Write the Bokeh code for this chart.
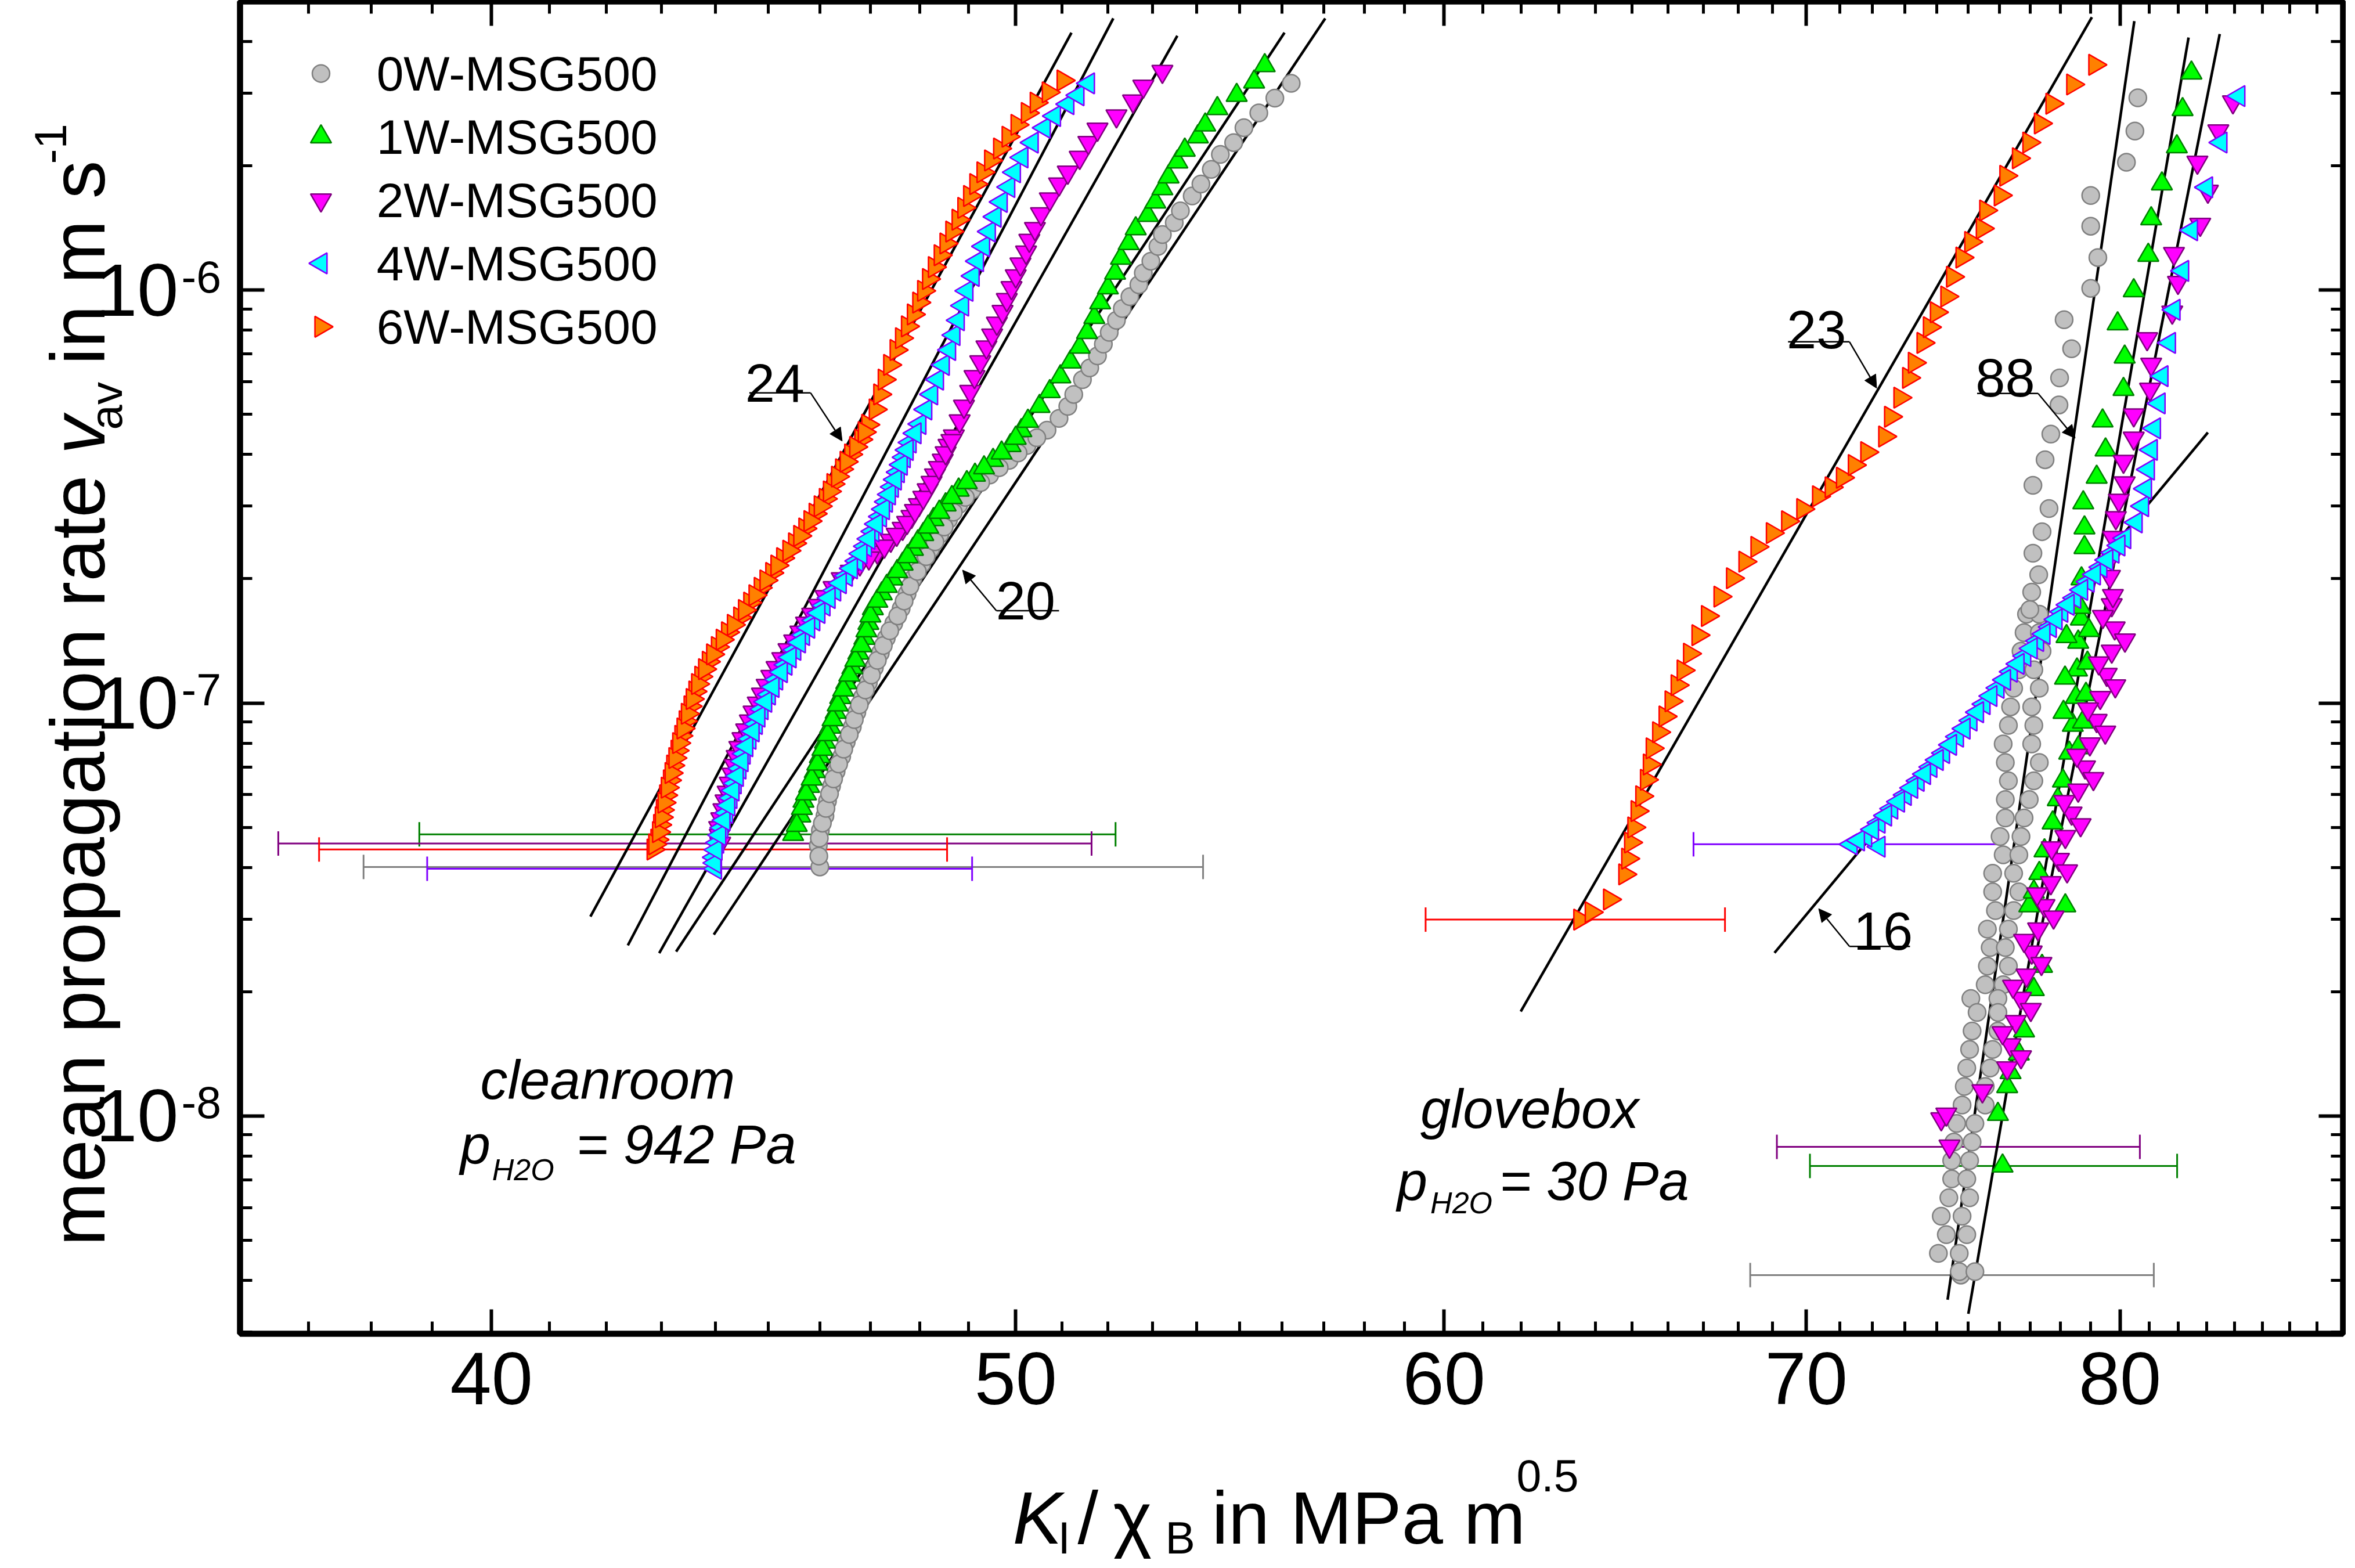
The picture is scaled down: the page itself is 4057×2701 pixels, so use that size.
import math
from bokeh.plotting import figure
from bokeh.models import (ColumnDataSource, FixedTicker, LogAxis, Label, Whisker, TeeHead, Arrow,
                          NormalHead, Range1d, CustomJSTickFormatter, GridBox)
from bokeh.embed import file_html
from bokeh.resources import INLINE

# ---------------- data (K_I/chi_B in MPa m^0.5, v_av in m/s) ----------------
series_names = ["0W-MSG500", "1W-MSG500", "2W-MSG500", "4W-MSG500", "6W-MSG500"]

cr_0W = [(46.00,4.01e-8),(45.97,4.52e-8),(46.01,4.91e-8),(46.10,5.33e-8),(46.15,5.79e-8),(46.23,6.29e-8),
 (46.32,6.83e-8),(46.43,7.42e-8),(46.52,8.05e-8),(46.64,8.75e-8),(46.73,9.50e-8),(46.84,1.032e-7),
 (46.96,1.121e-7),(47.08,1.218e-7),(47.20,1.322e-7),(47.32,1.436e-7),(47.47,1.560e-7),(47.62,1.694e-7),
 (47.74,1.840e-7),(47.86,1.999e-7),(48.04,2.171e-7),(48.22,2.358e-7),(48.41,2.561e-7),(48.59,2.782e-7),
 (48.80,3.021e-7),(49.08,3.281e-7),(49.45,3.565e-7),(49.86,3.871e-7),(50.24,4.204e-7),(50.67,4.58e-7),
 (50.93,4.89e-7),(51.12,5.23e-7),(51.25,5.59e-7),(51.44,6.07e-7),(51.60,6.48e-7),(51.77,6.93e-7),
 (51.90,7.40e-7),(52.03,7.90e-7),(52.19,8.45e-7),(52.32,9.02e-7),(52.49,9.64e-7),(52.69,1.030e-6),
 (52.79,1.100e-6),(52.96,1.175e-6),(53.12,1.276e-6),(53.22,1.363e-6),(53.49,1.457e-6),(53.63,1.556e-6),
 (53.90,1.690e-6),(54.10,1.806e-6),(54.34,1.961e-6),(54.55,2.130e-6),(54.86,2.276e-6),(55.10,2.472e-6),
 (55.45,2.685e-6),(55.83,2.916e-6),(56.22,3.167e-6),
 (45.98,4.26e-8),(45.99,4.71e-8),(46.05,5.12e-8),(46.12,5.56e-8),(46.19,6.03e-8),(46.27,6.55e-8),
 (46.37,7.12e-8),(46.47,7.73e-8),(46.58,8.39e-8),(46.68,9.12e-8),(46.78,9.9e-8),(46.90,1.076e-7),
 (47.02,1.169e-7),(47.14,1.269e-7),(47.26,1.378e-7),(47.39,1.497e-7),(47.55,1.626e-7),(47.68,1.766e-7),
 (47.80,1.918e-7),(47.95,2.083e-7),(48.13,2.263e-7),(48.31,2.458e-7),(48.50,2.669e-7),(48.69,2.899e-7),
 (48.94,3.148e-7),(49.26,3.42e-7),(49.65,3.715e-7),(50.05,4.034e-7),(50.45,4.39e-7)]

cr_1W = [(45.48,4.81e-8),(45.62,5.33e-8),(45.68,5.79e-8),(45.79,6.29e-8),(45.90,6.83e-8),(46.00,7.42e-8),
 (46.10,8.05e-8),(46.20,8.75e-8),(46.31,9.50e-8),(46.40,1.032e-7),(46.52,1.121e-7),(46.64,1.218e-7),
 (46.76,1.322e-7),(46.88,1.436e-7),(46.96,1.560e-7),(47.05,1.694e-7),(47.23,1.840e-7),(47.44,1.999e-7),
 (47.65,2.171e-7),(47.86,2.358e-7),(48.07,2.561e-7),(48.28,2.782e-7),(48.53,3.021e-7),(48.80,3.281e-7),
 (49.14,3.565e-7),(49.52,3.871e-7),(49.89,4.204e-7),(50.12,4.57e-7),(50.26,4.815e-7),(50.51,5.23e-7),
 (50.73,5.68e-7),(50.96,6.17e-7),(51.18,6.70e-7),(51.38,7.28e-7),(51.54,7.90e-7),(51.70,8.59e-7),
 (51.83,9.32e-7),(52.00,1.013e-6),(52.16,1.100e-6),(52.29,1.195e-6),(52.46,1.297e-6),(52.62,1.409e-6),
 (52.89,1.518e-6),(53.06,1.635e-6),(53.22,1.761e-6),(53.36,1.881e-6),(53.56,2.044e-6),(53.73,2.183e-6),
 (54.03,2.352e-6),(54.20,2.513e-6),(54.48,2.752e-6),(54.93,2.964e-6),(55.34,3.193e-6),(55.59,3.497e-6),
 (45.55,5.06e-8),(45.65,5.56e-8),(45.73,6.03e-8),(45.84,6.55e-8),(45.95,7.12e-8),(46.05,7.73e-8),
 (46.15,8.39e-8),(46.25,9.12e-8),(46.35,9.9e-8),(46.46,1.076e-7),(46.58,1.169e-7),(46.70,1.269e-7),
 (46.82,1.378e-7),(46.92,1.497e-7),(47.00,1.626e-7),(47.14,1.766e-7),(47.33,1.918e-7),(47.54,2.083e-7),
 (47.75,2.263e-7),(47.96,2.458e-7),(48.17,2.669e-7),(48.40,2.899e-7),(48.66,3.148e-7),(48.97,3.42e-7),
 (49.33,3.715e-7),(49.70,4.034e-7),(50.00,4.38e-7)]

cr_2W = [(44.09,4.57e-8),(44.07,4.99e-8),(44.15,5.51e-8),(44.23,6.08e-8),(44.32,6.72e-8),(44.40,7.42e-8),
 (44.51,8.19e-8),(44.65,9.04e-8),(44.80,9.99e-8),(44.97,1.103e-7),(45.16,1.218e-7),(45.39,1.345e-7),
 (45.62,1.484e-7),(45.85,1.639e-7),(46.11,1.810e-7),(46.43,1.999e-7),(46.79,2.171e-7),(47.14,2.319e-7),
 (47.41,2.477e-7),(47.65,2.647e-7),(47.83,2.828e-7),(47.98,3.021e-7),(48.16,3.281e-7),(48.31,3.565e-7),
 (48.47,3.871e-7),(48.59,4.204e-7),(48.70,4.43e-7),(48.82,4.82e-7),(48.91,5.23e-7),(49.04,5.68e-7),
 (49.13,6.17e-7),(49.25,6.70e-7),(49.38,7.28e-7),(49.50,7.78e-7),(49.60,8.31e-7),(49.72,8.87e-7),
 (49.81,9.48e-7),(49.91,1.013e-6),(50.00,1.082e-6),(50.10,1.156e-6),(50.22,1.235e-6),(50.29,1.319e-6),
 (50.41,1.409e-6),(50.54,1.530e-6),(50.73,1.662e-6),(50.93,1.806e-6),(51.12,1.929e-6),(51.38,2.095e-6),
 (51.57,2.276e-6),(51.77,2.451e-6),(52.19,2.640e-6),(52.56,2.868e-6),(52.79,3.115e-6),(53.22,3.383e-6),
 (44.08,4.78e-8),(44.11,5.24e-8),(44.19,5.79e-8),(44.27,6.39e-8),(44.36,7.06e-8),(44.45,7.80e-8),
 (44.58,8.6e-8),(44.72,9.5e-8),(44.88,1.05e-7),(45.06,1.159e-7),(45.27,1.28e-7),(45.50,1.413e-7),
 (45.73,1.56e-7),(45.98,1.722e-7),(46.27,1.902e-7),(46.61,2.083e-7),(46.97,2.244e-7),(47.28,2.397e-7),
 (47.53,2.56e-7),(47.74,2.736e-7),(47.90,2.923e-7),(48.07,3.148e-7),(48.24,3.42e-7),(48.39,3.715e-7),
 (48.53,4.034e-7),(48.65,4.32e-7)]

cr_4W = [(44.00,3.97e-8),(43.98,4.23e-8),(44.04,4.59e-8),(44.12,4.99e-8),(44.21,5.42e-8),(44.29,5.89e-8),
 (44.37,6.39e-8),(44.46,6.94e-8),(44.54,7.54e-8),(44.65,8.19e-8),(44.77,8.90e-8),(44.88,9.66e-8),
 (45.02,1.049e-7),(45.16,1.140e-7),(45.34,1.238e-7),(45.51,1.345e-7),(45.68,1.461e-7),(45.88,1.586e-7),
 (46.08,1.723e-7),(46.29,1.872e-7),(46.52,2.033e-7),(46.73,2.208e-7),(46.90,2.397e-7),(47.05,2.604e-7),
 (47.20,2.828e-7),(47.32,3.072e-7),(47.44,3.337e-7),(47.56,3.623e-7),(47.68,3.936e-7),(47.80,4.275e-7),
 (48.00,4.74e-7),(48.12,5.14e-7),(48.24,5.59e-7),(48.36,6.07e-7),(48.48,6.59e-7),(48.61,7.16e-7),
 (48.70,7.78e-7),(48.79,8.45e-7),(48.88,9.17e-7),(48.97,9.96e-7),(49.10,1.082e-6),(49.19,1.175e-6),
 (49.32,1.276e-6),(49.44,1.386e-6),(49.56,1.505e-6),(49.69,1.635e-6),(49.85,1.776e-6),(49.97,1.929e-6),
 (50.13,2.095e-6),(50.35,2.276e-6),(50.61,2.472e-6),(50.83,2.640e-6),(51.12,2.820e-6),(51.34,2.964e-6),
 (51.57,3.167e-6),
 (43.99,4.1e-8),(44.01,4.41e-8),(44.08,4.79e-8),(44.16,5.2e-8),(44.25,5.65e-8),(44.33,6.14e-8),
 (44.41,6.66e-8),(44.50,7.23e-8),(44.59,7.86e-8),(44.71,8.54e-8),(44.82,9.27e-8),(44.95,1.007e-7),
 (45.09,1.094e-7),(45.25,1.188e-7),(45.42,1.29e-7),(45.60,1.402e-7),(45.78,1.522e-7),(45.98,1.653e-7),
 (46.18,1.796e-7),(46.40,1.951e-7),(46.62,2.119e-7),(46.81,2.30e-7),(46.97,2.498e-7),(47.12,2.714e-7),
 (47.26,2.947e-7),(47.38,3.20e-7),(47.50,3.477e-7),(47.62,3.776e-7),(47.74,4.10e-7),(47.90,4.50e-7)]

cr_6W = [(42.85,4.42e-8),(42.92,4.67e-8),(42.97,5.07e-8),(43.02,5.51e-8),(43.08,5.98e-8),(43.15,6.50e-8),
 (43.21,7.06e-8),(43.29,7.67e-8),(43.36,8.33e-8),(43.44,9.04e-8),(43.53,9.82e-8),(43.62,1.067e-7),
 (43.73,1.159e-7),(43.87,1.259e-7),(44.04,1.367e-7),(44.23,1.484e-7),(44.46,1.612e-7),(44.65,1.751e-7),
 (44.85,1.902e-7),(45.07,2.066e-7),(45.28,2.244e-7),(45.51,2.437e-7),(45.71,2.647e-7),(45.91,2.875e-7),
 (46.11,3.123e-7),(46.26,3.392e-7),(46.43,3.684e-7),(46.61,4.001e-7),(46.81,4.346e-7),(46.95,4.72e-7),
 (47.10,5.14e-7),(47.19,5.59e-7),(47.28,6.07e-7),(47.39,6.59e-7),(47.52,7.16e-7),(47.63,7.65e-7),
 (47.75,8.17e-7),(47.87,8.73e-7),(47.98,9.33e-7),(48.08,9.96e-7),(48.18,1.064e-6),(48.30,1.137e-6),
 (48.42,1.215e-6),(48.54,1.297e-6),(48.66,1.386e-6),(48.79,1.481e-6),(48.91,1.582e-6),(49.03,1.690e-6),
 (49.16,1.806e-6),(49.31,1.929e-6),(49.47,2.061e-6),(49.66,2.202e-6),(49.84,2.352e-6),(50.03,2.513e-6),
 (50.25,2.685e-6),(50.44,2.844e-6),(50.70,3.013e-6),(51.02,3.219e-6),
 (42.88,4.55e-8),(42.95,4.87e-8),(43.00,5.29e-8),(43.05,5.74e-8),(43.11,6.24e-8),(43.18,6.77e-8),
 (43.25,7.36e-8),(43.32,8.0e-8),(43.40,8.68e-8),(43.48,9.42e-8),(43.57,1.023e-7),(43.67,1.112e-7),
 (43.80,1.208e-7),(43.95,1.312e-7),(44.13,1.424e-7),(44.34,1.547e-7),(44.55,1.68e-7),(44.75,1.825e-7),
 (44.96,1.982e-7),(45.17,2.153e-7),(45.40,2.339e-7),(45.61,2.54e-7),(45.81,2.759e-7),(46.01,2.997e-7),
 (46.19,3.255e-7),(46.35,3.535e-7),(46.52,3.84e-7),(46.71,4.17e-7),(46.88,4.53e-7)]

gb_0W = [(74.76,4.12e-9),
 (76.88,1.641e-7),(77.30,1.641e-7),(76.80,1.481e-7),(77.30,1.481e-7),(76.70,1.335e-7),(77.39,1.335e-7),
 (76.63,1.204e-7),(77.12,1.204e-7),(76.46,1.086e-7),(77.30,1.086e-7),(76.36,9.79e-8),(77.05,9.79e-8),
 (76.29,8.83e-8),(77.12,8.83e-8),(76.12,7.96e-8),(77.05,7.96e-8),(76.19,7.18e-8),(77.30,7.18e-8),
 (76.29,6.48e-8),(77.12,6.48e-8),(76.19,5.84e-8),(76.97,5.84e-8),(76.19,5.27e-8),(76.80,5.27e-8),
 (76.02,4.75e-8),(76.70,4.75e-8),(76.12,4.29e-8),(76.63,4.29e-8),(75.78,3.87e-8),(76.46,3.87e-8),
 (75.78,3.49e-8),(76.63,3.49e-8),(75.87,3.145e-8),(76.46,3.145e-8),(75.61,2.836e-8),(76.29,2.836e-8),
 (75.70,2.558e-8),(76.19,2.558e-8),(75.61,2.307e-8),(76.29,2.307e-8),(75.54,2.080e-8),(76.12,2.080e-8),
 (75.08,1.926e-8),(75.95,1.926e-8),(75.28,1.782e-8),(75.95,1.782e-8),(75.12,1.607e-8),(75.95,1.607e-8),
 (75.04,1.449e-8),(75.78,1.449e-8),(74.95,1.307e-8),(75.70,1.307e-8),(74.87,1.179e-8),(75.54,1.179e-8),
 (74.80,1.063e-8),(75.54,1.063e-8),(74.63,9.59e-9),(75.21,9.59e-9),(74.54,8.65e-9),(75.12,8.65e-9),
 (74.47,7.80e-9),(75.04,7.80e-9),(74.47,7.04e-9),(74.95,7.04e-9),(74.38,6.34e-9),(75.04,6.34e-9),
 (74.14,5.72e-9),(74.80,5.72e-9),(74.30,5.16e-9),(74.95,5.16e-9),(74.05,4.65e-9),(74.71,4.65e-9),
 (74.71,4.20e-9),(75.21,4.20e-9),
 (76.99,1.684e-7),(77.05,1.856e-7),(77.28,2.046e-7),(77.09,2.306e-7),(77.39,2.600e-7),(77.62,2.958e-7),
 (77.09,3.368e-7),(77.49,3.884e-7),(77.68,4.48e-7),(77.95,5.27e-7),(77.97,6.13e-7),(78.37,7.21e-7),
 (78.12,8.48e-7),(79.01,1.010e-6),(79.25,1.199e-6),(79.01,1.428e-6),(79.01,1.695e-6),(80.22,2.039e-6),
 (80.51,2.428e-6),(80.61,2.921e-6)]

gb_1W = [(76.10,7.57e-9),(75.95,1.010e-8),(76.25,1.179e-8),(76.36,1.275e-8),(76.63,1.414e-8),(76.80,1.609e-8),
 (77.12,2.025e-8),(77.39,2.306e-8),(76.97,3.23e-8),(78.16,3.23e-8),(77.12,3.49e-8),(77.30,3.87e-8),
 (77.47,4.39e-8),(77.74,5.13e-8),(77.91,5.84e-8),(78.08,6.48e-8),(78.29,7.57e-8),(78.41,8.84e-8),
 (78.51,1.033e-7),(78.55,1.203e-7),(78.59,1.405e-7),(78.68,1.599e-7),
 (78.95,1.50e-7),(78.90,1.25e-7),(78.85,1.05e-7),(78.75,9.0e-8),(78.60,7.8e-8),(78.20,1.45e-7),
 (78.15,1.15e-7),(78.10,9.5e-8),
 (78.66,1.706e-7),(78.70,2.0e-7),(78.80,2.381e-7),(78.80,2.658e-7),(78.76,3.057e-7),(79.21,3.525e-7),
 (79.51,4.103e-7),(79.41,4.825e-7),(80.12,5.75e-7),(80.16,6.89e-7),(79.92,8.29e-7),(80.47,9.97e-7),
 (80.97,1.215e-6),(81.07,1.489e-6),(81.44,1.809e-6),(81.96,2.225e-6),(82.16,2.738e-6),(82.47,3.357e-6)]

gb_2W = [(74.40,8.45e-9),(74.14,9.84e-9),(74.30,1.010e-8),(75.45,1.15e-8),
 (76.25,1.307e-8),(76.36,1.487e-8),(76.53,1.693e-8),(76.70,1.926e-8),(76.88,2.192e-8),(77.05,2.493e-8),
 (77.26,2.836e-8),(77.47,3.23e-8),(77.68,3.67e-8),(77.95,4.18e-8),(78.16,4.75e-8),(78.37,5.41e-8),
 (78.59,6.15e-8),(78.82,7.00e-8),(78.98,7.96e-8),(79.21,9.07e-8),(79.33,1.031e-7),(79.55,1.173e-7),
 (79.72,1.335e-7),(79.82,1.519e-7),(79.72,1.729e-7),
 (76.70,1.39e-8),(76.10,1.59e-8),(77.02,1.81e-8),(76.44,2.06e-8),(77.37,2.34e-8),(76.80,2.66e-8),
 (77.77,3.03e-8),(77.23,3.45e-8),(78.22,3.92e-8),(77.71,4.46e-8),(78.67,5.07e-8),(78.13,5.77e-8),
 (79.10,6.56e-8),(78.55,7.47e-8),(79.50,8.5e-8),(78.92,9.67e-8),(79.84,1.10e-7),(79.28,1.25e-7),
 (80.17,1.42e-7),(79.42,1.62e-7),
 (79.76,1.820e-7),(79.66,2.025e-7),(79.70,2.25e-7),(79.76,2.517e-7),(79.86,2.810e-7),(79.96,3.096e-7),
 (80.16,3.412e-7),(80.12,3.847e-7),(80.47,4.378e-7),(80.47,4.984e-7),(81.03,5.75e-7),(81.07,6.61e-7),
 (80.93,7.62e-7),(81.80,8.84e-7),(82.00,1.043e-6),(81.86,1.226e-6),(82.78,1.442e-6),(83.05,1.734e-6),
 (82.68,2.039e-6),(83.42,2.428e-6),(83.94,2.855e-6)]

gb_4W = [(71.35,4.55e-8),(72.20,4.49e-8),(71.79,4.75e-8),(72.20,5.13e-8),(72.59,5.55e-8),(73.01,5.99e-8),
 (73.41,6.48e-8),(73.81,7.00e-8),(74.21,7.57e-8),(74.65,8.29e-8),(75.08,9.07e-8),(75.50,9.94e-8),
 (75.95,1.088e-7),(76.38,1.191e-7),(76.82,1.300e-7),(77.24,1.414e-7),(77.66,1.528e-7),(78.04,1.663e-7),
 (78.47,1.797e-7),(78.92,1.967e-7),(79.35,2.133e-7),(79.76,2.313e-7),(80.16,2.507e-7),(80.55,2.738e-7),
 (80.77,2.998e-7),(80.87,3.304e-7),(80.97,3.676e-7),(81.07,4.103e-7),(81.18,4.627e-7),(81.34,5.317e-7),
 (81.44,6.19e-7),(81.70,7.45e-7),(81.86,8.96e-7),(82.16,1.113e-6),(82.47,1.396e-6),(83.00,1.774e-6),
 (83.51,2.277e-6),(84.15,2.950e-6),
 (71.57,4.65e-8),(72.00,4.94e-8),(72.40,5.34e-8),(72.80,5.77e-8),(73.21,6.23e-8),(73.61,6.73e-8),
 (74.01,7.28e-8),(74.43,7.92e-8),(74.86,8.67e-8),(75.29,9.5e-8),(75.72,1.04e-7),(76.16,1.138e-7),
 (76.60,1.244e-7),(77.03,1.356e-7),(77.45,1.47e-7),(77.85,1.594e-7),(78.25,1.729e-7),(78.70,1.88e-7),
 (79.13,2.048e-7),(79.55,2.221e-7),(79.96,2.408e-7)]

gb_6W = [(63.57,2.99e-8),(63.88,3.115e-8),(64.38,3.346e-8),(64.80,3.847e-8),(64.88,4.2e-8),(64.96,4.596e-8),
 (65.05,5.0e-8),(65.14,5.475e-8),(65.27,5.95e-8),(65.40,6.52e-8),(65.48,7.1e-8),(65.56,7.77e-8),
 (65.74,8.5e-8),(65.92,9.28e-8),(66.09,1.01e-7),(66.26,1.105e-7),(66.43,1.2e-7),(66.61,1.317e-7),
 (66.85,1.46e-7),(67.12,1.625e-7),(67.48,1.81e-7),(67.84,2.006e-7),(68.20,2.2e-7),(68.55,2.389e-7),
 (69.00,2.58e-7),(69.45,2.756e-7),(69.90,2.95e-7),(70.37,3.168e-7),(70.75,3.33e-7),(71.09,3.513e-7),
 (71.45,3.77e-7),(71.83,4.052e-7),(72.38,4.42e-7),(72.56,4.935e-7),(72.85,5.49e-7),(73.12,6.13e-7),
 (73.30,6.67e-7),(73.57,7.45e-7),(73.77,8.13e-7),(73.99,8.84e-7),(74.32,9.65e-7),(74.50,1.077e-6),
 (74.80,1.199e-6),(75.08,1.308e-6),(75.45,1.410e-6),(75.56,1.559e-6),(76.03,1.695e-6),(76.21,1.892e-6),
 (76.62,2.086e-6),(76.96,2.277e-6),(77.34,2.533e-6),(77.72,2.827e-6),(78.41,3.147e-6),(79.15,3.513e-6)]

# power-law fit lines: (K_start, v_start, K_end, v_end)
fit_lines = [(41.72,3.04e-8,51.20,4.20e-6),(42.39,2.59e-8,52.12,4.55e-6),(42.96,2.48e-8,53.56,4.13e-6),
 (43.27,2.50e-8,56.06,4.20e-6),(43.97,2.75e-8,57.04,4.55e-6),
 (61.99,1.791e-8,79.05,4.58e-6),(74.34,3.59e-9,80.49,4.48e-6),(75.00,3.32e-9,82.37,4.09e-6),
 (77.20,2.476e-8,83.47,4.17e-6),(69.06,2.484e-8,83.05,4.52e-7)]

# error bars in K at first point: (v, K_low, K_high), order 0W,1W,2W,4W,6W
cr_err = [(4.01e-8,37.88,54.15),(4.81e-8,38.79,52.17),(4.57e-8,36.53,51.64),(3.97e-8,38.92,49.08),(4.42e-8,37.17,48.56)]
gb_err = [(4.12e-9,68.35,81.16),(7.57e-9,70.11,81.97),(8.42e-9,69.13,80.68),(4.55e-8,66.72,76.04),(2.99e-8,59.53,67.62)]

slope_labels = ["24", "20", "23", "88", "16"]

x_major = [40, 50, 60, 70, 80]
x_minor = [37,38,39,41,42,43,44,45,46,47,48,49,51,52,53,54,55,56,57,58,59,61,62,63,64,65,66,67,68,69,
           71,72,73,74,75,76,77,78,79,81,82,83,84,85,86,87]
y_major = [1e-8, 1e-7, 1e-6]
y_exp = ["-8", "-7", "-6"]
y_minor = [3e-9,4e-9,5e-9,6e-9,7e-9,8e-9,9e-9,2e-8,3e-8,4e-8,5e-8,6e-8,7e-8,8e-8,9e-8,
           2e-7,3e-7,4e-7,5e-7,6e-7,7e-7,8e-7,9e-7,2e-6,3e-6,4e-6]

# ---------------- layout & styles ----------------
W, H = 4041, 2685
BL, BR, BT, BB = 413, 5, 2, 388
XR = (35.94, 87.97)
YR = (2.97e-9, 5.0e-6)
fills = ["#C0C0C0", "#00FF00", "#FF00FF", "#00FFFF", "#FF8000"]
edges = ["#808080", "#008000", "#800080", "#8000FF", "#FF0000"]
markers = ["circle", "triangle", "inverted_triangle", "triangle", "triangle"]
angles = [0.0, 0.0, 0.0, math.pi / 2, -math.pi / 2]
msizes = [30, 36, 36, 36, 36]
FONT = "Liberation Sans"


def no_align(fig):
    try:
        fig.frame_align = False
    except Exception:
        pass


p = figure(width=W, height=H, x_axis_type="log", y_axis_type="log",
           x_range=Range1d(*XR), y_range=Range1d(*YR),
           output_backend="svg", toolbar_location=None,
           min_border_left=BL, min_border_right=BR, min_border_top=BT, min_border_bottom=BB)
no_align(p)
p.xgrid.visible = False
p.ygrid.visible = False
p.outline_line_color = "black"
p.outline_line_width = 10
p.background_fill_color = "white"
p.border_fill_color = "white"

bottom_ax = p.below[0]
left_ax = p.left[0]
top_ax = LogAxis()
right_ax = LogAxis()
p.add_layout(top_ax, "above")
p.add_layout(right_ax, "right")
for ax, maj, mn in [(bottom_ax, x_major, x_minor), (top_ax, x_major, x_minor),
                    (left_ax, y_major, y_minor), (right_ax, y_major, y_minor)]:
    ax.ticker = FixedTicker(ticks=maj, minor_ticks=mn)
    ax.major_tick_in = 42
    ax.major_tick_out = 0
    ax.minor_tick_in = 21
    ax.minor_tick_out = 0
    ax.major_tick_line_width = 6
    ax.minor_tick_line_width = 5
    ax.axis_line_width = 10
    ax.axis_label = None
    ax.major_label_text_font = FONT
    ax.major_label_text_color = "black"

for ax in (top_ax, right_ax):
    ax.formatter = CustomJSTickFormatter(code="return ''")
    ax.major_label_standoff = 0
    ax.major_label_text_font_size = "1px"

bottom_ax.formatter = CustomJSTickFormatter(code="return String(Math.round(tick))")
bottom_ax.major_label_text_font_size = "128px"
bottom_ax.major_label_standoff = 33
left_ax.formatter = CustomJSTickFormatter(code="return '10'")
left_ax.major_label_text_font_size = "128px"
left_ax.major_label_standoff = 106

# fit lines (underneath the data)
p.segment(x0=[f[0] for f in fit_lines], y0=[f[1] for f in fit_lines],
          x1=[f[2] for f in fit_lines], y1=[f[3] for f in fit_lines],
          line_color="black", line_width=4.5)

# error bars
for errs in (cr_err, gb_err):
    for i, (v, lo, hi) in enumerate(errs):
        src = ColumnDataSource(dict(base=[v], lower=[lo], upper=[hi]))
        p.add_layout(Whisker(source=src, base="base", lower="lower", upper="upper", dimension="width",
                             line_color=edges[i], line_width=3,
                             lower_head=TeeHead(size=42, line_color=edges[i], line_width=3),
                             upper_head=TeeHead(size=42, line_color=edges[i], line_width=3)))

for i, (cr, gb) in enumerate(zip([cr_0W, cr_1W, cr_2W, cr_4W, cr_6W], [gb_0W, gb_1W, gb_2W, gb_4W, gb_6W])):
    pts = cr + gb
    src = ColumnDataSource(dict(x=[a for a, b in pts], y=[b for a, b in pts]))
    p.scatter("x", "y", source=src, marker=markers[i], size=msizes[i], angle=angles[i],
              fill_color=fills[i], line_color=edges[i], line_width=2.5)

# legend (swatches drawn with the same markers, including rotated triangles)
legend_K, legend_text_K = 37.20, 38.09
legend_rows = [3.3456e-6, 2.3508e-6, 1.6520e-6, 1.1606e-6, 8.153e-7]
lsrc = ColumnDataSource(dict(x=[legend_K] * 5, y=legend_rows, marker=markers, angle=angles,
                             size=msizes, fill=fills, edge=edges))
p.scatter("x", "y", source=lsrc, marker="marker", angle="angle", size="size",
          fill_color="fill", line_color="edge", line_width=2.5)


def lab(fig, x, y, text, size, style="normal", align="left", baseline="alphabetic", angle=0.0):
    fig.add_layout(Label(x=x, y=y, text=text, text_font=FONT, text_font_size=f"{size}px",
                         text_font_style=style, text_align=align, text_baseline=baseline,
                         angle=angle, text_color="black"))


for name, yv in zip(series_names, legend_rows):
    lab(p, legend_text_K, yv, name, 84, baseline="middle")

# environment annotations
lab(p, 39.81, 1.223e-8, "cleanroom", 94, "italic")
lab(p, 39.47, 8.53e-9, "p", 94, "italic")
lab(p, 40.01, 7.42e-9, "H2O", 52, "italic")
lab(p, 41.47, 8.53e-9, "= 942 Pa", 94, "italic")
lab(p, 59.40, 1.039e-8, "glovebox", 94, "italic")
lab(p, 58.81, 6.96e-9, "p", 94, "italic")
lab(p, 59.65, 6.17e-9, "H2O", 52, "italic")
lab(p, 61.43, 6.96e-9, "= 30 Pa", 94, "italic")

# slope callouts: text pos, underline (x0, x1, y), leader start side, arrow tip
callouts = [(44.56, 5.956e-7, 44.64, 45.82, 5.637e-7, 1, 46.44, 4.309e-7),
            (49.58, 1.7682e-7, 49.59, 50.93, 1.6735e-7, 0, 48.88, 2.0996e-7),
            (69.42, 8.022e-7, 69.46, 71.30, 7.496e-7, 1, 72.13, 5.785e-7),
            (75.23, 6.132e-7, 75.28, 77.26, 5.619e-7, 1, 78.49, 4.379e-7),
            (71.42, 2.8012e-8, 71.30, 73.16, 2.5745e-8, 0, 70.37, 3.1778e-8)]
for txt, (tx, ty, ux0, ux1, uy, side, ax_, ay_) in zip(slope_labels, callouts):
    lab(p, tx, ty, txt, 92)
    p.line([ux0, ux1], [uy, uy], line_color="black", line_width=2.5)
    sx = ux1 if side == 1 else ux0
    p.add_layout(Arrow(end=NormalHead(size=22, fill_color="black", line_color="black"),
                       x_start=sx, y_start=uy, x_end=ax_, y_end=ay_,
                       line_color="black", line_width=2.5))

# ---------------- transparent text layer on top (texts outside the plot frame) ----------------
ov = figure(frame_width=W, frame_height=H, x_range=Range1d(0, W), y_range=Range1d(H, 0),
            x_axis_location=None, y_axis_location=None, output_backend="svg", toolbar_location=None,
            min_border=0, min_border_left=0, min_border_right=0, min_border_top=0, min_border_bottom=0)
no_align(ov)
ov.outline_line_color = None
ov.background_fill_color = None
ov.border_fill_color = None
ov.grid.visible = False


def y_px(v):
    span = math.log10(YR[1]) - math.log10(YR[0])
    return BT + (math.log10(YR[1]) - math.log10(v)) * (H - BT - BB) / span


# superscript exponents of the y tick labels
for t, e in zip(y_major, y_exp):
    lab(ov, 312, y_px(t) - 23, e, 77)

# x axis title: K_I / chi_B in MPa m^0.5
lab(ov, 1744, 2614, "K", 128, "italic")
lab(ov, 1822, 2648, "I", 77)
lab(ov, 1856, 2614, "/", 128)
lab(ov, 1917, 2614, "\u03c7", 128)
lab(ov, 2007, 2648, "B", 77)
lab(ov, 2087, 2614, "in MPa m", 128)
lab(ov, 2612, 2541, "0.5", 77)

# y axis title: mean propagation rate v_av in m s^-1
A = math.pi / 2
lab(ov, 134, 2146, "mean propagation rate", 132, angle=A)
lab(ov, 134, 782, "v", 132, "italic", angle=A)
lab(ov, 182, 740, "av", 78, angle=A)
lab(ov, 134, 628, "in m s", 132, angle=A)
lab(ov, 86, 282, "-1", 78, angle=A)

page = GridBox(children=[(p, 0, 0), (ov, 0, 0)])
open("out.html", "w").write(file_html(page, INLINE))
